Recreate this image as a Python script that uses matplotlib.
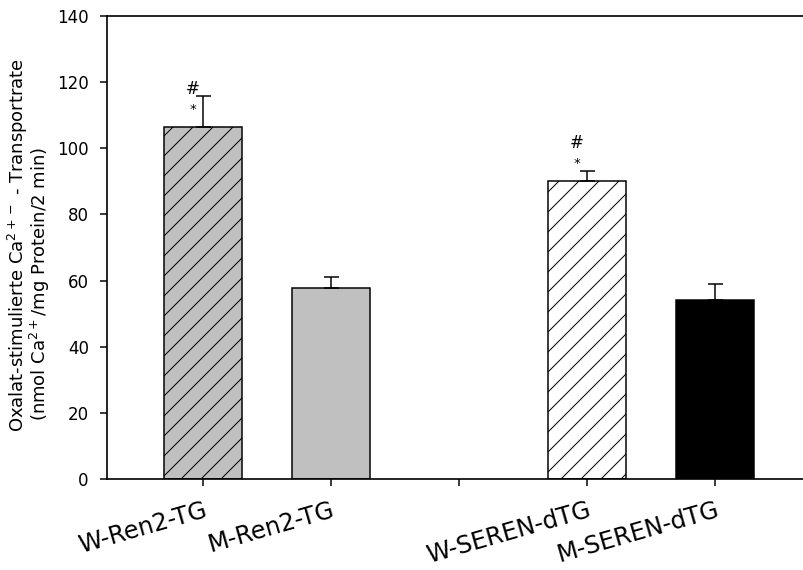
import numpy as np
import matplotlib
matplotlib.use('Agg')
import matplotlib.pyplot as plt

# Données
groupes = ['W-Ren2-TG', 'M-Ren2-TG', 'W-SEREN-dTG', 'M-SEREN-dTG']
positions = [0, 1, 3, 4]
moyennes = [106.5, 57.8, 90.1, 54.1]
erreurs = [9.4, 3.4, 3.1, 4.8]
couleurs = ['#c0c0c0', '#c0c0c0', 'white', 'black']
hachures = ['//', '', '//', '']
signif = [True, False, True, False]

plt.rcParams['font.family'] = ['DejaVu Sans']
plt.rcParams['hatch.linewidth'] = 0.6
plt.rcParams['hatch.color'] = 'black'

dpi = 120
fig = plt.figure(figsize=(803 / dpi, 570 / dpi), dpi=dpi)
ax = fig.add_axes([107 / 803, 91 / 570, 704 / 803, 463 / 570])

for x, m, e, c, h in zip(positions, moyennes, erreurs, couleurs, hachures):
    ax.bar(x, m, width=0.61, color=c, edgecolor='black', linewidth=0.9, hatch=h, zorder=2)
    ax.errorbar(x, m, yerr=[[0], [e]], fmt='none', ecolor='black', elinewidth=0.9,
                capsize=4.5, capthick=0.9, zorder=3)

# étoiles et dièses au-dessus des barres
for x, m, s in zip(positions, moyennes, signif):
    if s:
        ax.text(x - 0.08, m + 5.3, '*', ha='center', va='center', fontsize=8)
        ax.text(x - 0.08, m + 11.5, '#', ha='center', va='center', fontsize=10)

ax.set_xlim(-0.75, 4.75)
ax.set_ylim(0, 140)
ax.set_yticks(np.arange(0, 141, 20))
ax.set_xticks(range(5))
labels = ['', '', '', '', '']
for p, g in zip(positions, groupes):
    labels[p] = g
ax.set_xticklabels(labels, rotation=16, ha='right', rotation_mode='anchor', fontsize=14.5)
ax.tick_params(axis='y', direction='out', length=4.4, width=0.9, labelsize=10, pad=6.5)
ax.tick_params(axis='x', direction='out', length=4.4, width=0.9, pad=7)

for side in ['left', 'bottom', 'top']:
    ax.spines[side].set_linewidth(1.0)
ax.spines['right'].set_visible(False)

fig.text(18 / 803, 1 - 245 / 570, 'Oxalat-stimulierte Ca$^{2+-}$ - Transportrate',
         rotation=90, ha='center', va='center', fontsize=10.8)
fig.text(40 / 803, 1 - 284 / 570, '(nmol Ca$^{2+}$/mg Protein/2 min)',
         rotation=90, ha='center', va='center', fontsize=10.8)

plt.savefig('out.png', dpi=dpi)
